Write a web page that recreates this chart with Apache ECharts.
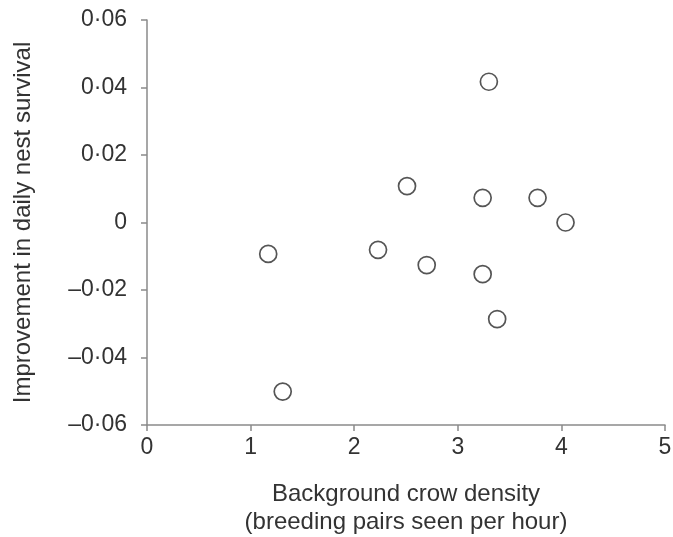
<!DOCTYPE html>
<html>
<head>
<meta charset="utf-8">
<script src="https://cdn.jsdelivr.net/npm/echarts@6/dist/echarts.min.js"></script>
<style>
html,body{margin:0;padding:0;background:#fff;}
#chart{width:673px;height:537px;}
</style>
</head>
<body>
<div id="chart"></div>
<script>
// Data
const crowDensity = [3.30, 2.51, 3.24, 3.77, 4.04, 1.17, 2.23, 2.70, 3.24, 3.38, 1.31];
const nestImprovement = [0.0417, 0.0108, 0.0073, 0.0073, 0.0000, -0.0093, -0.0081, -0.0126, -0.0153, -0.0286, -0.0501];
const xTickValues = [0, 1, 2, 3, 4, 5];
const yTickValues = [-0.06, -0.04, -0.02, 0, 0.02, 0.04, 0.06];
const yTickLabels = ['\u20130\u00b706', '\u20130\u00b704', '\u20130\u00b702', '0', '0\u00b702', '0\u00b704', '0\u00b706'];
const xAxisTitle = 'Background crow density\n(breeding pairs seen per hour)';
const yAxisTitle = 'Improvement in daily nest survival';

const points = crowDensity.map((x, i) => [x, nestImprovement[i]]);

function yLabel(v) {
  let best = 0, bd = Infinity;
  yTickValues.forEach((t, i) => { const d = Math.abs(t - v); if (d < bd) { bd = d; best = i; } });
  return yTickLabels[best];
}

const font = 'Liberation Sans, Arial, Helvetica, sans-serif';
const axisColor = '#8a8a8a';
const textColor = '#333';

const chart = echarts.init(document.getElementById('chart'));
chart.setOption({
  animation: false,
  backgroundColor: '#fff',
  grid: { left: 147, right: 8, top: 20, bottom: 112, containLabel: false, outerBoundsMode: 'none' },
  xAxis: {
    type: 'value', min: 0, max: 5, interval: 1,
    name: xAxisTitle, nameLocation: 'middle', nameGap: 55,
    nameTextStyle: { fontFamily: font, fontSize: 24, color: textColor, lineHeight: 28 },
    axisLine: { show: true, onZero: false, lineStyle: { color: axisColor, width: 1.5 } },
    axisTick: { show: true, length: 6, lineStyle: { color: axisColor, width: 1.5 } },
    axisLabel: { margin: 11, fontFamily: font, fontSize: 23, color: textColor,
      formatter: v => String(xTickValues[Math.round(v)]) },
    splitLine: { show: false }
  },
  yAxis: {
    type: 'value', min: -0.06, max: 0.06, interval: 0.02,
    name: yAxisTitle, nameLocation: 'middle', nameGap: 112, nameRotate: 90,
    nameTextStyle: { fontFamily: font, fontSize: 24, color: textColor },
    axisLine: { show: true, onZero: false, lineStyle: { color: axisColor, width: 1.5 } },
    axisTick: { show: true, length: 6, lineStyle: { color: axisColor, width: 1.5 } },
    axisLabel: { margin: 20, fontFamily: font, fontSize: 23, color: textColor, formatter: yLabel },
    splitLine: { show: false }
  },
  series: [{
    type: 'scatter',
    data: points,
    symbol: 'circle',
    symbolSize: 17,
    itemStyle: { color: '#fff', borderColor: '#555', borderWidth: 1.7, opacity: 1 }
  }]
});
</script>
</body>
</html>
